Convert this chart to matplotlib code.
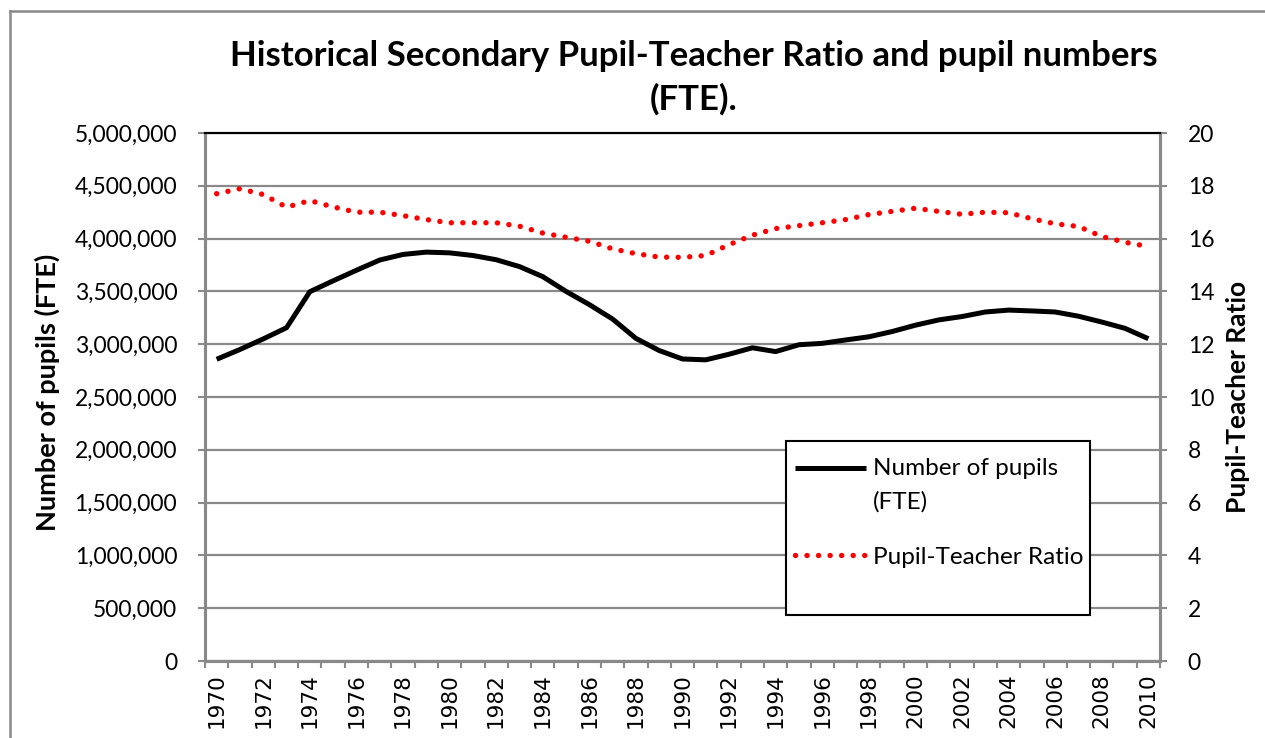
import matplotlib.pyplot as plt
from matplotlib.lines import Line2D
from matplotlib.patches import Rectangle
from matplotlib.ticker import FuncFormatter
from matplotlib.legend_handler import HandlerLine2D

years = list(range(1970, 2011))
pupils = [2857000, 2950000, 3050000, 3156000, 3497000, 3600000, 3700000, 3797000,
          3850000, 3872000, 3865000, 3840000, 3800000, 3735000, 3640000, 3500000,
          3375000, 3238000, 3055000, 2940000, 2860000, 2852000, 2905000, 2966000,
          2930000, 2995000, 3008000, 3040000, 3070000, 3120000, 3180000, 3230000,
          3262000, 3305000, 3323000, 3315000, 3305000, 3265000, 3210000, 3150000,
          3052000]
ptr = [17.7, 17.89, 17.67, 17.19, 17.44, 17.2, 17.0, 17.0, 16.87, 16.72, 16.6,
       16.6, 16.6, 16.47, 16.21, 16.05, 15.9, 15.61, 15.43, 15.3, 15.29, 15.36,
       15.77, 16.13, 16.38, 16.49, 16.6, 16.72, 16.91, 17.03, 17.15, 17.03, 16.92,
       17.0, 16.98, 16.75, 16.56, 16.46, 16.08, 15.86, 15.7]

title = "Historical Secondary Pupil-Teacher Ratio and pupil numbers\n(FTE)."
label_left = "Number of pupils (FTE)"
label_right = "Pupil-Teacher Ratio"
name_pupils = "Number of pupils\n(FTE)"
name_ptr = "Pupil-Teacher Ratio"

grey = "#898989"
W, H = 1265, 738
LEG_FS = 17.5
LEG_LS = 1.69


class FirstLineHandler(HandlerLine2D):
    # put the legend line next to the first line of a two-line label
    def create_artists(self, legend, orig_handle, xdescent, ydescent, width,
                       height, fontsize, trans):
        arts = super().create_artists(legend, orig_handle, xdescent, ydescent,
                                      width, height, fontsize, trans)
        shift = fontsize * LEG_LS * 0.5 * 0.85
        for a in arts:
            a.set_ydata([y + shift for y in a.get_ydata()])
        return arts


fig = plt.figure(figsize=(W / 100, H / 100), dpi=100)
plt.rcParams['font.family'] = ['Lato', 'DejaVu Sans']

ax = fig.add_axes([205 / W, 1 - 661 / H, (1160 - 205) / W, (661 - 133) / H])
ax2 = ax.twinx()

l_pup, = ax.plot(years, pupils, color="black", lw=3.6, solid_joinstyle="round",
                 solid_capstyle="butt", zorder=3, label=name_pupils)
l_ptr, = ax2.plot(years, ptr, color="red", lw=3.9, linestyle=(0, (0.01, 2.12)),
                  dash_capstyle="round", zorder=3, label=name_ptr)

ax.set_xlim(1969.5, 2010.5)
ax.set_ylim(0, 5000000)
ax2.set_ylim(0, 20)
ax.set_yticks(range(0, 5000001, 500000))
ax2.set_yticks(range(0, 21, 2))
ax.yaxis.set_major_formatter(FuncFormatter(lambda v, p: f"{int(v):,}"))
ax.set_xticks(range(1970, 2011, 2))
ax.set_xticks([y - 0.5 for y in years] + [2010.5], minor=True)
ax.tick_params(axis="x", which="major", length=0, pad=9, labelrotation=90,
               labelsize=15.5)
for t in ax.get_xticklabels():
    t.set_family("DejaVu Sans")
ax.tick_params(axis="x", which="minor", length=5, width=1.5, color=grey)
ax.tick_params(axis="y", length=5, width=1.5, color=grey, pad=15, labelsize=16.5)
ax2.tick_params(axis="y", length=5, width=1.5, color=grey, pad=15, labelsize=16.5)

ax.grid(axis="y", color=grey, lw=1.6)
ax.set_axisbelow(True)
for a in (ax, ax2):
    for s in ("left", "right", "bottom"):
        a.spines[s].set_color(grey)
        a.spines[s].set_linewidth(2.2)
    a.spines["top"].set_color("black")
    a.spines["top"].set_linewidth(1.5)

fig.text(694 / W, 1 - 78 / H, title, ha="center", va="center", fontsize=25,
         fontweight="bold", linespacing=1.4)
fig.text(47 / W, 1 - 392 / H, label_left, rotation=90, ha="center", va="center",
         fontsize=19.5, fontweight="bold")
fig.text(1238 / W, 1 - 397 / H, label_right, rotation=90, ha="center", va="center",
         fontsize=19, fontweight="bold")

# legend box (white, black frame) sits over the gridlines
ax2.add_patch(Rectangle((786 / W, 1 - 615 / H), (1090 - 786) / W, (615 - 441) / H,
                        transform=fig.transFigure, clip_on=False, facecolor="white",
                        edgecolor="black", lw=1.5, zorder=4))
leg = ax2.legend([l_pup, l_ptr], [name_pupils, name_ptr], loc="upper left",
                 frameon=False, bbox_to_anchor=(790 / W, 1 - 453 / H),
                 bbox_transform=fig.transFigure, borderaxespad=0,
                 fontsize=LEG_FS, handlelength=2.92, handletextpad=0.29,
                 labelspacing=1.41, borderpad=0.2,
                 handler_map={l_pup: FirstLineHandler()})
for t in leg.get_texts():
    t.set_linespacing(LEG_LS)
leg.set_zorder(5)

fig.lines.append(Line2D([10 / W, 10 / W], [0, 1 - 11 / H], transform=fig.transFigure,
                        color=grey, lw=1.8))
fig.lines.append(Line2D([10 / W, 1], [1 - 11 / H, 1 - 11 / H], transform=fig.transFigure,
                        color=grey, lw=1.8))

fig.savefig("out.png", dpi=100)
